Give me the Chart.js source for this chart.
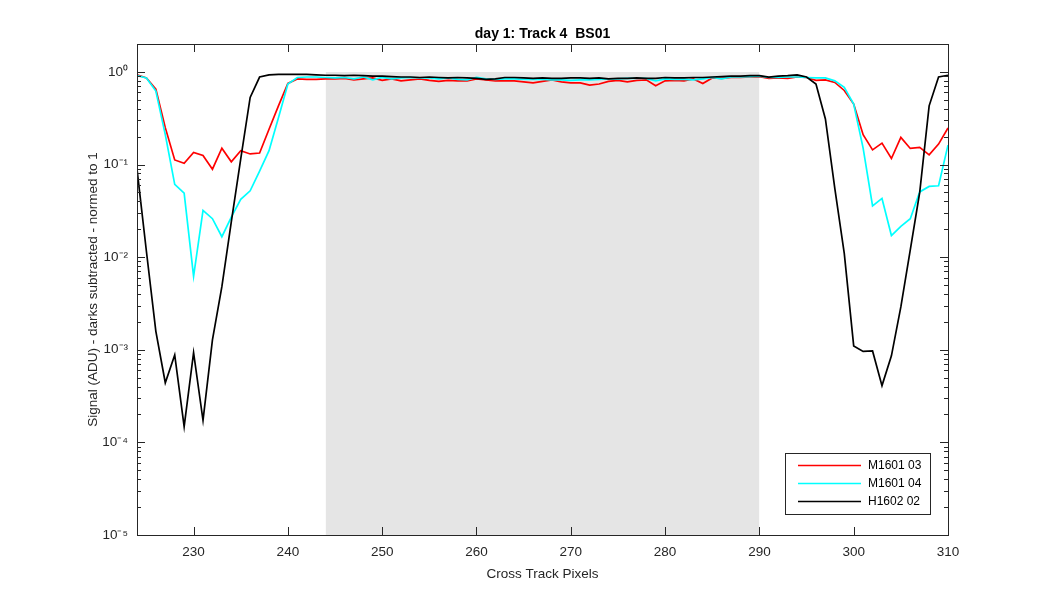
<!DOCTYPE html>
<html lang="en">
<head>
    <meta charset="UTF-8">
    <title>day 1: Track 4  BS01</title>
    <script src="https://cdn.jsdelivr.net/npm/chart.js"></script>
    <style>
        html, body { margin: 0; padding: 0; background: #fff; }
        #wrap { width: 1050px; height: 600px; position: relative; }
    </style>
</head>
<body>
    <div id="wrap">
        <canvas id="trackChart"></canvas>
    </div>

    <script>
        // cross track pixel numbers
        const pixels = [224, 225, 226, 227, 228, 229, 230, 231, 232, 233, 234, 235, 236, 237, 238, 239,
            240, 241, 242, 243, 244, 245, 246, 247, 248, 249, 250, 251, 252, 253, 254, 255,
            256, 257, 258, 259, 260, 261, 262, 263, 264, 265, 266, 267, 268, 269, 270, 271,
            272, 273, 274, 275, 276, 277, 278, 279, 280, 281, 282, 283, 284, 285, 286, 287,
            288, 289, 290, 291, 292, 293, 294, 295, 296, 297, 298, 299, 300, 301, 302, 303,
            304, 305, 306, 307, 308, 309, 310];

        // M1601 03 (red)
        const m160103 = [0.93, 0.86, 0.65, 0.25, 0.112, 0.103, 0.135, 0.125, 0.089, 0.150, 0.107, 0.141, 0.130, 0.133, 0.24, 0.43,
            0.75, 0.84, 0.83, 0.83, 0.84, 0.84, 0.85, 0.82, 0.84, 0.86, 0.81, 0.84, 0.80, 0.82, 0.84, 0.81,
            0.79, 0.81, 0.80, 0.80, 0.84, 0.82, 0.80, 0.80, 0.80, 0.78, 0.76, 0.79, 0.82, 0.78, 0.76, 0.76,
            0.72, 0.74, 0.79, 0.81, 0.78, 0.81, 0.82, 0.71, 0.80, 0.81, 0.80, 0.84, 0.75, 0.86, 0.85, 0.87,
            0.87, 0.88, 0.89, 0.85, 0.86, 0.85, 0.88, 0.87, 0.81, 0.82, 0.77, 0.63, 0.45, 0.21, 0.144, 0.17,
            0.116, 0.196, 0.149, 0.153, 0.127, 0.166, 0.248];

        // M1601 04 (cyan)
        const m160104 = [0.91, 0.86, 0.62, 0.21, 0.061, 0.049, 0.0062, 0.032, 0.026, 0.0166, 0.027, 0.042, 0.052, 0.085, 0.141, 0.32,
            0.74, 0.87, 0.88, 0.88, 0.87, 0.86, 0.87, 0.84, 0.88, 0.82, 0.87, 0.84, 0.86, 0.87, 0.86, 0.86,
            0.84, 0.86, 0.83, 0.82, 0.87, 0.84, 0.83, 0.84, 0.84, 0.83, 0.83, 0.83, 0.82, 0.82, 0.81, 0.82,
            0.82, 0.83, 0.84, 0.84, 0.85, 0.85, 0.85, 0.80, 0.84, 0.83, 0.83, 0.82, 0.84, 0.87, 0.84, 0.88,
            0.88, 0.89, 0.90, 0.87, 0.87, 0.88, 0.88, 0.87, 0.86, 0.86, 0.80, 0.68, 0.45, 0.15, 0.0357, 0.043,
            0.0171, 0.0215, 0.026, 0.0506, 0.058, 0.059, 0.162];

        // H1602 02 (black)
        const h160202 = [0.089, 0.0115, 0.00158, 0.00044, 0.00088, 0.000148, 0.00093, 0.000173, 0.00128, 0.0048, 0.024, 0.115, 0.53, 0.88, 0.93, 0.94,
            0.94, 0.94, 0.94, 0.93, 0.92, 0.92, 0.91, 0.92, 0.91, 0.90, 0.90, 0.89, 0.88, 0.88, 0.87, 0.88,
            0.87, 0.86, 0.87, 0.86, 0.85, 0.83, 0.84, 0.87, 0.87, 0.86, 0.85, 0.86, 0.85, 0.85, 0.86, 0.86,
            0.85, 0.86, 0.84, 0.85, 0.85, 0.86, 0.85, 0.85, 0.87, 0.86, 0.86, 0.87, 0.87, 0.88, 0.89, 0.90,
            0.90, 0.91, 0.91, 0.88, 0.90, 0.91, 0.93, 0.88, 0.74, 0.31, 0.055, 0.011, 0.0011, 0.00096, 0.00097, 0.00041,
            0.00086, 0.0029, 0.012, 0.05, 0.43, 0.88, 0.92];

        const seriesNames = ["M1601 03", "M1601 04", "H1602 02"];
        const seriesColors = ["#ff0000", "#00ffff", "#000000"];

        // grey band of the track
        const bandX = [244, 290];
        const bandY = [1, 1];

        const xTicks = [230, 240, 250, 260, 270, 280, 290, 300, 310];
        const yTicks = [1e-5, 1e-4, 1e-3, 1e-2, 1e-1, 1];
        const yTickLabels = ["10\u207B\u2075", "10\u207B\u2074", "10\u207B\u00B3", "10\u207B\u00B2", "10\u207B\u00B9", "10\u2070"];

        const axisColor = "#262626";
        const fontName = "'Liberation Sans', Arial, Helvetica, sans-serif";

        const toPoints = (vals) => pixels.map((p, i) => ({ x: p, y: vals[i] }));

        // box, inward ticks, title and legend, MATLAB style
        const frame = {
            id: "frame",
            afterDatasetsDraw(chart) {
                const { ctx, chartArea: a, scales: { x, y } } = chart;
                ctx.save();
                ctx.strokeStyle = axisColor;
                ctx.lineWidth = 1;
                ctx.beginPath();
                xTicks.forEach(v => {
                    const px = Math.round(x.getPixelForValue(v)) + 0.5;
                    ctx.moveTo(px, a.bottom); ctx.lineTo(px, a.bottom - 8);
                    ctx.moveTo(px, a.top); ctx.lineTo(px, a.top + 8);
                });
                yTicks.forEach(v => {
                    for (let m = 1; m <= 9; m++) {
                        const val = v * m;
                        if (val > y.max) break;
                        const py = Math.round(y.getPixelForValue(val)) + 0.5;
                        const len = m === 1 ? 8 : 4;
                        ctx.moveTo(a.left, py); ctx.lineTo(a.left + len, py);
                        ctx.moveTo(a.right, py); ctx.lineTo(a.right - len, py);
                    }
                });
                ctx.stroke();
                ctx.strokeRect(Math.round(a.left) + 0.5, Math.round(a.top) + 0.5,
                    Math.round(a.right - a.left), Math.round(a.bottom - a.top));

                // title
                ctx.fillStyle = "#000";
                ctx.font = "bold 14px " + fontName;
                ctx.textAlign = "center";
                ctx.textBaseline = "middle";
                ctx.fillText("day 1: Track 4  BS01", (a.left + a.right) / 2, a.top - 10);

                // legend
                const bx = a.right - 163, by = a.bottom - 82;
                ctx.fillStyle = "#fff";
                ctx.fillRect(bx, by, 145, 61);
                ctx.strokeStyle = axisColor;
                ctx.strokeRect(bx + 0.5, by + 0.5, 145, 61);
                ctx.font = "12px " + fontName;
                ctx.textAlign = "left";
                chart.data.datasets.slice(0, 3).forEach((ds, i) => {
                    const ly = by + 12.5 + i * 18;
                    ctx.strokeStyle = ds.borderColor;
                    ctx.lineWidth = 1.5;
                    ctx.beginPath();
                    ctx.moveTo(bx + 13, ly); ctx.lineTo(bx + 76, ly);
                    ctx.stroke();
                    ctx.fillStyle = "#000";
                    ctx.fillText(ds.label, bx + 83, ly);
                });
                ctx.restore();
            }
        };

        const ctx = document.getElementById("trackChart").getContext("2d");
        new Chart(ctx, {
            type: "line",
            data: {
                datasets: [
                    { label: seriesNames[0], data: toPoints(m160103), borderColor: seriesColors[0], order: 3 },
                    { label: seriesNames[1], data: toPoints(m160104), borderColor: seriesColors[1], order: 2 },
                    { label: seriesNames[2], data: toPoints(h160202), borderColor: seriesColors[2], order: 1 },
                    {
                        label: "band",
                        data: bandX.map((v, i) => ({ x: v, y: bandY[i] })),
                        borderWidth: 0,
                        borderColor: "rgba(0,0,0,0)",
                        backgroundColor: "#e5e5e5",
                        fill: "start",
                        order: 10
                    }
                ]
            },
            options: {
                responsive: true,
                maintainAspectRatio: false,
                animation: false,
                elements: {
                    point: { radius: 0, hoverRadius: 0 },
                    line: { borderWidth: 1.7, tension: 0 }
                },
                layout: { padding: { left: 0, right: 102, top: 44, bottom: 0 } },
                plugins: {
                    legend: { display: false },
                    title: { display: false },
                    tooltip: { enabled: false }
                },
                scales: {
                    x: {
                        type: "linear",
                        min: 224,
                        max: 310,
                        grid: { display: false, drawTicks: false },
                        border: { display: false },
                        afterBuildTicks: s => { s.ticks = xTicks.map(v => ({ value: v })); },
                        afterFit: s => { s.height = 65; },
                        ticks: {
                            color: axisColor,
                            font: { family: fontName, size: 13.5 },
                            padding: 9,
                            maxRotation: 0,
                            autoSkip: false
                        },
                        title: {
                            display: true,
                            text: "Cross Track Pixels",
                            color: axisColor,
                            font: { family: fontName, size: 13.5 },
                            padding: { top: 0, bottom: 18 }
                        }
                    },
                    y: {
                        type: "logarithmic",
                        min: 1e-5,
                        max: 2,
                        grid: { display: false, drawTicks: false },
                        border: { display: false },
                        afterBuildTicks: s => { s.ticks = yTicks.map(v => ({ value: v })); },
                        afterFit: s => { s.width = 137; },
                        ticks: {
                            color: axisColor,
                            font: { family: fontName, size: 13.5 },
                            padding: 9,
                            autoSkip: false,
                            callback: (v, i) => yTickLabels[i]
                        },
                        title: {
                            display: true,
                            text: "Signal (ADU) - darks subtracted - normed to 1",
                            color: axisColor,
                            font: { family: fontName, size: 13.5 },
                            padding: { top: 85, bottom: 0 }
                        }
                    }
                }
            },
            plugins: [frame]
        });
    </script>
</body>
</html>
